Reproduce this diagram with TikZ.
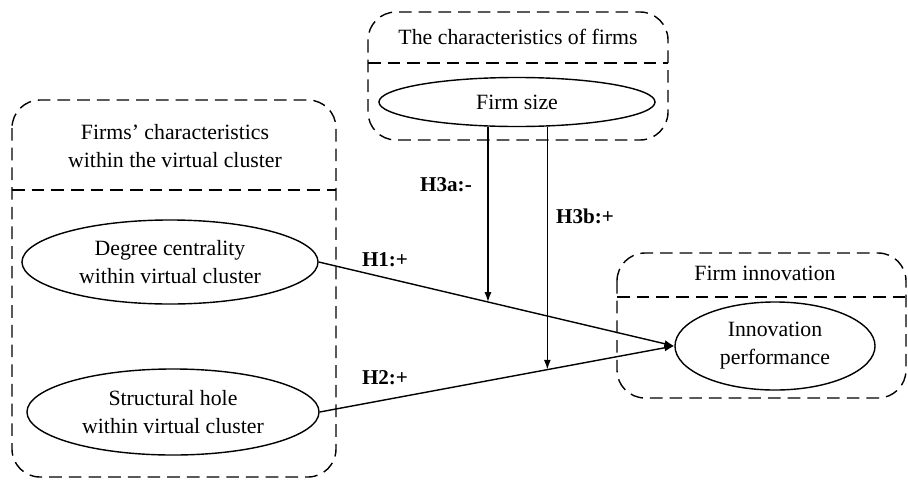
\documentclass[tikz,border=0pt]{standalone}
\usepackage{fontspec}
\setmainfont{Liberation Serif}
\usetikzlibrary{shapes.geometric,arrows.meta}
\begin{document}
\begin{tikzpicture}[x=0.025cm,y=-0.025cm,
	font=\fontsize{15.5}{20}\selectfont,
	line width=1pt,
	grp/.style={draw,dash pattern=on 9pt off 5pt,rounded corners=0.7cm},
	var/.style={draw,ellipse,inner sep=0pt,align=center},
	hyp/.style={font=\fontsize{15}{18}\selectfont\bfseries},
	arr/.style={-{Latex[length=7pt,width=5pt]}}]
	\useasboundingbox (0,0) rectangle (908,481);
	% the three groups
	\draw[grp] (12,100) rectangle (336,477);
	\draw[grp] (12,190) -- (336,190);
	\draw[grp] (368,12) rectangle (668,140);
	\draw[grp] (368,63) -- (668,63);
	\draw[grp] (617,253) rectangle (906,398);
	\draw[grp] (617,297) -- (906,297);
	\node[align=center] (tfirm) at (175,146) {Firms’ characteristics\\within the virtual cluster};
	\node (tchar) at (518,37) {The characteristics of firms};
	\node (tinno) at (765,273) {Firm innovation};
	% variables
	\node[var,minimum width=7.4cm,minimum height=2.1cm] (dc) at (170,262) {Degree centrality\\within virtual cluster};
	\node[var,minimum width=7.3cm,minimum height=2.15cm] (sh) at (173,412) {Structural hole\\within virtual cluster};
	\node[var,minimum width=6.9cm,minimum height=1.225cm] (fs) at (517,102) {Firm size};
	\node[var,minimum width=5cm,minimum height=2.2cm] (ip) at (775,346) {Innovation\\performance};
	% hypotheses
	\draw[arr] (dc.east) -- coordinate[pos=0.476] (m1) (ip.west);
	\draw[arr] (sh.east) -- coordinate[pos=0.642] (m2) (ip.west);
	\draw[arr] (fs.south -| m1) -- (m1);
	\draw[arr] (fs.south -| m2) -- (m2);
	\node[hyp] (h1) at (385,260) {H1:+};
	\node[hyp] (h2) at (385,378) {H2:+};
	\node[hyp] (h3a) at (446,185) {H3a:-};
	\node[hyp] (h3b) at (585,216) {H3b:+};
\end{tikzpicture}
\end{document}
